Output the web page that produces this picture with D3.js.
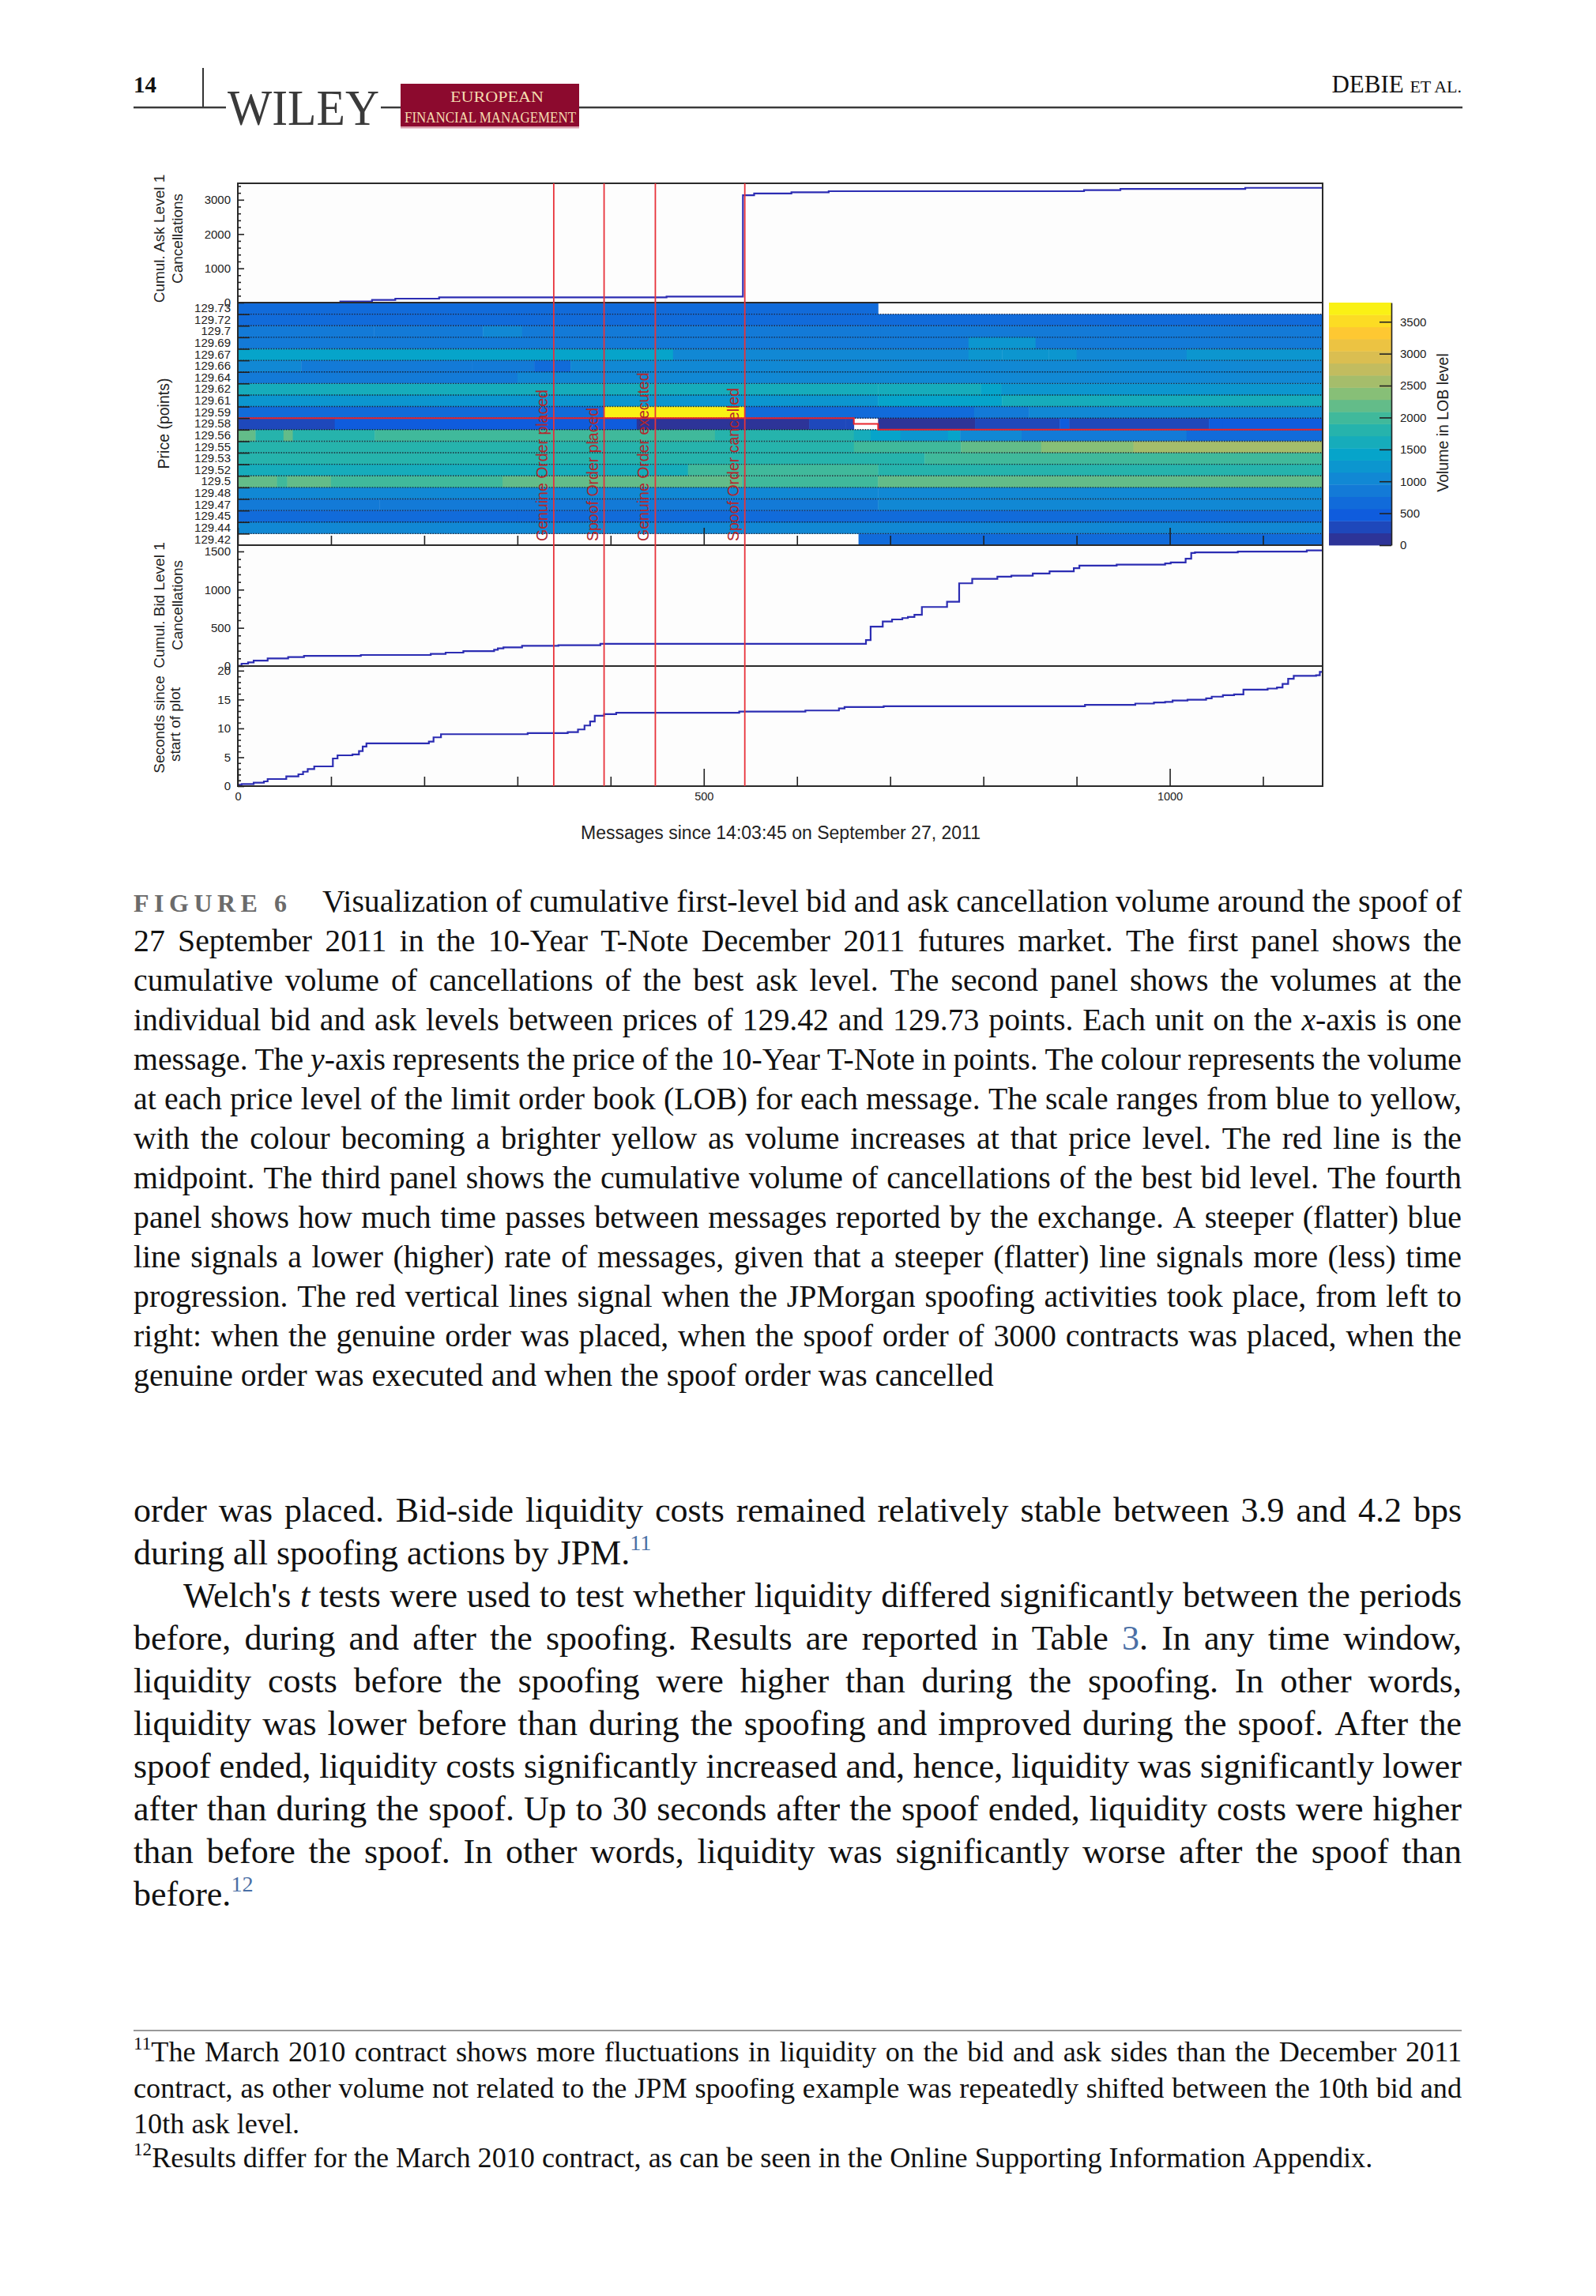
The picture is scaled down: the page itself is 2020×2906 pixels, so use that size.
<!DOCTYPE html>
<html><head><meta charset="utf-8">
<script src="https://cdn.jsdelivr.net/npm/d3@7/dist/d3.min.js"></script>
<style>html,body{margin:0;padding:0;background:#fff;}svg{display:block;}</style>
</head><body>
<svg id="page" width="2020" height="2906"></svg>
<script>
// ---------------- DATA ----------------
const messageMax = 1164;
const messageMajorTicks = [0, 500, 1000];
const messageMinorTicks = [100, 200, 300, 400, 600, 700, 800, 900, 1100];

const priceLabels = ['129.73','129.72','129.7','129.69','129.67','129.66','129.64','129.62','129.61','129.59',
  '129.58','129.56','129.55','129.53','129.52','129.5','129.48','129.47','129.45','129.44','129.42'];
const priceTopEdge = 129 + 47.5 / 64, priceBottomEdge = 129 + 26.5 / 64;

// volume in LOB level per price row: [start message, volume] (null = empty level)
const lobSegments = [
  [[0,620],[687,null]],
  [[0,700]],
  [[0,820],[146,880],[263,1000],[305,850],[690,800]],
  [[0,880],[784,1150],[856,900]],
  [[0,1350],[467,1100],[784,1300],[820,1150],[870,1300],[900,1100],[1018,1300]],
  [[0,1050],[68,900],[155,850],[251,780],[318,680],[357,950]],
  [[0,850],[300,950],[690,1050]],
  [[0,1550],[687,1700],[724,1550],[797,1350],[819,1250]],
  [[0,1250],[300,1300],[687,1350],[820,1600]],
  [[0,680],[393,3700],[544,650],[700,750],[790,900],[849,1050]],
  [[0,300],[104,450],[428,130],[613,350],[652,200],[661,null],[687,130],[791,330],[882,500],[892,330],[1042,380],[1057,480]],
  [[0,2100],[19,1850],[49,2100],[59,1850],[147,2050],[512,1850],[661,1600],[679,1400],[711,1300],[762,1380],[775,1100],[841,900],[1018,700]],
  [[0,1780],[661,1900],[776,2250],[862,2400],[961,2550]],
  [[0,1750],[300,1800],[737,2050]],
  [[0,1580],[483,1900],[687,1850]],
  [[0,2250],[42,1900],[53,2250],[100,1900],[284,2100],[541,2050],[687,2100]],
  [[0,1050],[687,1100]],
  [[0,900],[152,850],[300,900],[687,980]],
  [[0,700],[300,750]],
  [[0,1000]],
  [[0,null],[666,700]]
];

const midMessages = [0, 661, 687];
const midPrices = [129.5859, 129.5781, 129.5703];

const askCancel = [[0,0],[110,30],[144,76],[169,115],[216,154],[460,177],[542,3130],[554,3185],[594,3220],[634,3250],[908,3280],[947,3318],[1081,3348],[1164,3348]];
const askTicks = [0, 1000, 2000, 3000];

const bidCancel = [[0,3],[4,31],[11,48],[17,72],[32,100],[54,117],[71,134],[132,145],[207,159],[223,176],[242,196],[275,214],[279,231],[285,245],[305,265],[344,272],[389,290],[674,340],[679,515],[692,583],[702,610],[713,628],[719,642],[726,670],[734,773],[761,842],[774,1083],[788,1142],[815,1170],[830,1183],[853,1211],[871,1239],[897,1280],[903,1315],[943,1328],[995,1342],[1001,1356],[1017,1404],[1023,1480],[1027,1487],[1073,1497],[1147,1514],[1164,1514]];
const bidTicks = [0, 500, 1000, 1500];

const secondsElapsed = [[0,0.23],[4,0.37],[17,0.6],[28,0.82],[32,1.23],[52,1.69],[65,2.05],[70,2.5],[75,2.97],[82,3.42],[102,4.79],[107,5.34],[123,5.48],[130,6.07],[134,6.85],[138,7.4],[205,7.72],[210,8.45],[218,9.0],[311,9.18],[354,9.36],[365,9.82],[372,10.5],[378,11.2],[383,12.2],[393,12.47],[406,12.7],[538,12.92],[609,13.1],[645,13.47],[651,13.7],[693,13.84],[909,14.07],[963,14.3],[983,14.5],[995,14.6],[1003,14.84],[1019,14.98],[1039,15.2],[1045,15.5],[1057,15.75],[1069,15.9],[1079,16.7],[1105,16.9],[1115,17.1],[1121,17.7],[1127,18.6],[1133,19.1],[1157,19.2],[1161,19.8],[1164,19.8]];
const secTicks = [0, 5, 10, 15, 20];

const eventMessages = [339, 393, 448, 544];
const eventLabels = ['Genuine Order placed', 'Spoof Order placed', 'Genuine Order executed', 'Spoof Order cancelled'];

const colourMax = 3800, colourLevels = 20;
const colourTicks = [0, 500, 1000, 1500, 2000, 2500, 3000, 3500];
const birdStops = ['#352a87','#0f5cdd','#1481d6','#06a4ca','#2eb7a4','#87bf77','#d1bb59','#fec832','#f9fb0e'];

const captionLines = [
"Visualization of cumulative first-level bid and ask cancellation volume around the spoof of",
"27 September 2011 in the 10-Year T-Note December 2011 futures market. The first panel shows the",
"cumulative volume of cancellations of the best ask level. The second panel shows the volumes at the",
"individual bid and ask levels between prices of 129.42 and 129.73 points. Each unit on the _x_-axis is one",
"message. The _y_-axis represents the price of the 10-Year T-Note in points. The colour represents the volume",
"at each price level of the limit order book (LOB) for each message. The scale ranges from blue to yellow,",
"with the colour becoming a brighter yellow as volume increases at that price level. The red line is the",
"midpoint. The third panel shows the cumulative volume of cancellations of the best bid level. The fourth",
"panel shows how much time passes between messages reported by the exchange. A steeper (flatter) blue",
"line signals a lower (higher) rate of messages, given that a steeper (flatter) line signals more (less) time",
"progression. The red vertical lines signal when the JPMorgan spoofing activities took place, from left to",
"right: when the genuine order was placed, when the spoof order of 3000 contracts was placed, when the",
"genuine order was executed and when the spoof order was cancelled"
];
const bodyLines = [
"order was placed. Bid-side liquidity costs remained relatively stable between 3.9 and 4.2 bps",
"during all spoofing actions by JPM.^11^",
"Welch's _t_ tests were used to test whether liquidity differed significantly between the periods",
"before, during and after the spoofing. Results are reported in Table {3}. In any time window,",
"liquidity costs before the spoofing were higher than during the spoofing. In other words,",
"liquidity was lower before than during the spoofing and improved during the spoof. After the",
"spoof ended, liquidity costs significantly increased and, hence, liquidity was significantly lower",
"after than during the spoof. Up to 30 seconds after the spoof ended, liquidity costs were higher",
"than before the spoof. In other words, liquidity was significantly worse after the spoof than",
"before.^12^"
];
const footLines = [
"^11^The March 2010 contract shows more fluctuations in liquidity on the bid and ask sides than the December 2011",
"contract, as other volume not related to the JPM spoofing example was repeatedly shifted between the 10th bid and",
"10th ask level.",
"^12^Results differ for the March 2010 contract, as can be seen in the Online Supporting Information Appendix."
];

// ---------------- LAYOUT ----------------
const svg = d3.select('#page');
const sans = "'Liberation Sans', Arial, Helvetica, sans-serif";
const serif = "'Liberation Serif', 'Times New Roman', serif";
const ink = '#222';

const plotL = 301, plotR = 1674;
const p1 = {top: 232, bot: 383}, p2 = {top: 383, bot: 690}, p3 = {top: 690, bot: 843}, p4 = {top: 843, bot: 995};

const x = d3.scaleLinear().domain([0, messageMax]).range([plotL, plotR]);
const yAsk = d3.scaleLinear().domain([0, 3480]).range([p1.bot, p1.top]);
const rowBand = d3.scaleBand().domain(priceLabels).range([p2.top, p2.bot]);
const rowEdge = d3.scaleLinear().domain([0, priceLabels.length]).range([p2.top, p2.bot]);
const yPrice = d3.scaleLinear().domain([priceTopEdge, priceBottomEdge]).range([p2.top, p2.bot]);
const yBid = d3.scaleLinear().domain([0, 1582]).range([p3.bot, p3.top]);
const ySec = d3.scaleLinear().domain([0, 20.8]).range([p4.bot, p4.top]);
const cb = d3.scaleLinear().domain([0, colourMax]).range([p2.bot, p2.top]);
const birdInterp = d3.piecewise(d3.interpolateRgb, birdStops);
const levelSize = colourMax / colourLevels;
const colour = v => birdInterp((Math.min(colourLevels - 1, Math.floor(v / levelSize)) + 0.5) / colourLevels);
const intFmt = d3.format('d');

// panel backgrounds
[p1, p2, p3, p4].forEach(p => svg.append('rect').attr('x', plotL).attr('y', p.top)
  .attr('width', plotR - plotL).attr('height', p.bot - p.top).attr('fill', '#fdfdfd'));

// heatmap cells
const cells = [];
lobSegments.forEach((segs, r) => segs.forEach((s, i) => {
  const end = i + 1 < segs.length ? segs[i + 1][0] : messageMax;
  if (s[1] !== null) cells.push({label: priceLabels[r], x0: s[0], x1: end, v: s[1]});
}));
svg.append('g').selectAll('rect').data(cells).join('rect')
  .attr('x', d => x(d.x0)).attr('width', d => x(d.x1) - x(d.x0) + 0.4)
  .attr('y', d => rowBand(d.label)).attr('height', rowBand.bandwidth() + 0.3)
  .attr('fill', d => colour(d.v));

// dotted bin boundaries
svg.append('g').selectAll('line').data(d3.range(1, priceLabels.length)).join('line')
  .attr('x1', plotL).attr('x2', plotR).attr('y1', d => rowEdge(d)).attr('y2', d => rowEdge(d))
  .attr('stroke', '#1a1a2a').attr('stroke-width', 1.4).attr('stroke-dasharray', '1.6,1.6').attr('opacity', 0.85);

// midpoint line
const midData = midMessages.map((m, i) => [m, midPrices[i]]).concat([[messageMax, midPrices[midPrices.length - 1]]]);
svg.append('path').datum(midData)
  .attr('d', d3.line().x(d => x(d[0])).y(d => yPrice(d[1])).curve(d3.curveStepAfter))
  .attr('fill', 'none').attr('stroke', '#e8242c').attr('stroke-width', 2);

// step lines
const blue = '#2c2db3';
function stepLine(data, y) {
  svg.append('path').datum(data)
    .attr('d', d3.line().x(d => x(d[0])).y(d => y(d[1])).curve(d3.curveStepAfter))
    .attr('fill', 'none').attr('stroke', blue).attr('stroke-width', 2.2);
}
stepLine(askCancel, yAsk);
stepLine(bidCancel, yBid);
stepLine(secondsElapsed, ySec);

// frames
[p1, p2, p3, p4].forEach(p => svg.append('rect').attr('x', plotL).attr('y', p.top)
  .attr('width', plotR - plotL).attr('height', p.bot - p.top)
  .attr('fill', 'none').attr('stroke', '#2a2a2a').attr('stroke-width', 2));

// axes
function styleAxis(g, fs) {
  g.select('.domain').remove();
  g.selectAll('line').attr('stroke', ink).attr('stroke-width', 1.6);
  g.selectAll('text').attr('font-family', sans).attr('font-size', fs).attr('fill', ink);
}
function yAxisPair(scale, majors, minorStep, maxV, fs) {
  const minors = d3.range(0, maxV, minorStep).filter(v => !majors.some(m => Math.abs(m - v) < 1e-6));
  svg.append('g').attr('transform', `translate(${plotL},0)`)
    .call(d3.axisLeft(scale).tickValues(minors).tickSize(-4).tickFormat(''))
    .call(styleAxis, fs);
  svg.append('g').attr('transform', `translate(${plotL},0)`)
    .call(d3.axisLeft(scale).tickValues(majors).tickSize(-8).tickPadding(9).tickFormat(intFmt))
    .call(styleAxis, fs);
}
yAxisPair(yAsk, askTicks, 200, 3480, 15);
yAxisPair(yBid, bidTicks, 100, 1582, 15);
yAxisPair(ySec, secTicks, 1, 20.8, 15);

// heatmap y axis: labels at bin centres, ticks at bin edges
svg.append('g').attr('transform', `translate(${plotL},0)`)
  .call(d3.axisLeft(rowBand).tickSize(0).tickPadding(9)).call(styleAxis, 15);
svg.append('g').attr('transform', `translate(${plotL},0)`)
  .call(d3.axisLeft(rowEdge).tickValues(d3.range(1, priceLabels.length)).tickSize(-15).tickFormat(''))
  .call(styleAxis, 15);

// x axes (heatmap bottom and time panel bottom)
[p2.bot, p4.bot].forEach((yy, k) => {
  svg.append('g').attr('transform', `translate(0,${yy})`)
    .call(d3.axisBottom(x).tickValues(messageMinorTicks).tickSize(-12).tickFormat(''))
    .call(styleAxis, 14.5);
  svg.append('g').attr('transform', `translate(0,${yy})`)
    .call(d3.axisBottom(x).tickValues(messageMajorTicks).tickSize(-22).tickPadding(8)
      .tickFormat(k === 1 ? intFmt : ''))
    .call(styleAxis, 14.5);
});

// event lines and labels
svg.append('g').selectAll('line').data(eventMessages).join('line')
  .attr('x1', d => x(d)).attr('x2', d => x(d)).attr('y1', p1.top).attr('y2', p4.bot)
  .attr('stroke', '#e8323a').attr('stroke-width', 1.8);
svg.append('g').selectAll('text').data(eventMessages).join('text')
  .attr('transform', d => `translate(${x(d) - 8},${p2.bot - 5}) rotate(-90)`)
  .attr('font-family', sans).attr('font-size', 19.5).attr('fill', '#b3262c')
  .text((d, i) => eventLabels[i]);

// colour bar
const cbX = 1682, cbW = 79;
svg.append('g').selectAll('rect').data(d3.range(colourLevels)).join('rect')
  .attr('x', cbX).attr('width', cbW)
  .attr('y', k => cb((k + 1) * levelSize)).attr('height', k => cb(k * levelSize) - cb((k + 1) * levelSize) + 0.4)
  .attr('fill', k => birdInterp((k + 0.5) / colourLevels));
const cbAxis = svg.append('g').attr('transform', `translate(${cbX + cbW},0)`)
  .call(d3.axisRight(cb).tickValues(colourTicks).tickSize(-15).tickSizeOuter(0).tickPadding(11).tickFormat(intFmt));
cbAxis.selectAll('line').attr('stroke', ink).attr('stroke-width', 1.6);
cbAxis.select('.domain').attr('stroke', ink).attr('stroke-width', 1.6);
cbAxis.selectAll('text').attr('font-family', sans).attr('font-size', 15).attr('fill', ink);

// axis titles
function rotTitle(xb, yc, txt, fs) {
  svg.append('text').attr('transform', `translate(${xb},${yc}) rotate(-90)`)
    .attr('text-anchor', 'middle').attr('font-family', sans).attr('font-size', fs).attr('fill', ink).text(txt);
}
rotTitle(208, 302, 'Cumul. Ask Level 1', 19);
rotTitle(231, 302, 'Cancellations', 19);
rotTitle(214, 536, 'Price (points)', 19.5);
rotTitle(208, 766, 'Cumul. Bid Level 1', 19);
rotTitle(231, 766, 'Cancellations', 19);
rotTitle(208, 917, 'Seconds since', 19);
rotTitle(228, 917, 'start of plot', 19);
rotTitle(1833, 535, 'Volume in LOB level', 19.5);
svg.append('text').attr('x', 988).attr('y', 1062).attr('text-anchor', 'middle')
  .attr('font-family', sans).attr('font-size', 23).attr('fill', ink)
  .text('Messages since 14:03:45 on September 27, 2011');

// ---------------- PAGE HEADER ----------------
svg.append('text').attr('x', 169).attr('y', 117).attr('font-family', serif).attr('font-weight', 'bold')
  .attr('font-size', 29).attr('fill', '#111').text('14');
svg.append('line').attr('x1', 257).attr('x2', 257).attr('y1', 86).attr('y2', 137).attr('stroke', '#333').attr('stroke-width', 2);
[[169, 286], [482, 507], [733, 1851]].forEach(s => svg.append('line').attr('x1', s[0]).attr('x2', s[1])
  .attr('y1', 136).attr('y2', 136).attr('stroke', '#3a3a3a').attr('stroke-width', 2.5));
svg.append('text').attr('x', 288).attr('y', 158).attr('font-family', serif).attr('font-size', 64)
  .attr('fill', '#3a3a3a').attr('textLength', 192).attr('lengthAdjust', 'spacingAndGlyphs').text('WILEY');
svg.append('rect').attr('x', 507).attr('y', 106).attr('width', 226).attr('height', 56).attr('fill', '#8c0a2e');
svg.append('rect').attr('x', 507).attr('y', 160).attr('width', 226).attr('height', 2.5).attr('fill', '#d9a0ae');
svg.append('text').attr('x', 570).attr('y', 129).attr('font-family', serif).attr('font-size', 19)
  .attr('fill', '#f4dcb0').attr('textLength', 118).attr('lengthAdjust', 'spacingAndGlyphs').text('EUROPEAN');
svg.append('text').attr('x', 512).attr('y', 155).attr('font-family', serif).attr('font-size', 19)
  .attr('fill', '#f4dcb0').attr('textLength', 217).attr('lengthAdjust', 'spacingAndGlyphs').text('FINANCIAL MANAGEMENT');
const hdr = svg.append('text').attr('x', 1850).attr('y', 117).attr('text-anchor', 'end')
  .attr('font-family', serif).attr('fill', '#111');
hdr.append('tspan').attr('font-size', 31).text('DEBIE ');
hdr.append('tspan').attr('font-size', 22).text('ET AL.');

// ---------------- TEXT BLOCKS ----------------
function parseWord(w) {
  return w.split(/(_[^_]+_|\^[^\^]+\^|\{[^}]+\})/).filter(s => s.length).map(p =>
    p[0] === '_' ? {t: p.slice(1, -1), it: true} :
    p[0] === '^' ? {t: p.slice(1, -1), sup: true} :
    p[0] === '{' ? {t: p.slice(1, -1), link: true} : {t: p});
}
function buildWords(g, L, fs, opts) {
  return L.text.split(' ').filter(s => s.length).map(w => {
    const t = g.append('text').attr('y', L.y);
    let shifted = 0;
    parseWord(w).forEach(s => {
      const ts = t.append('tspan').text(s.t);
      if (s.it) ts.attr('font-style', 'italic');
      if (s.link) ts.attr('fill', opts.linkColour);
      if (s.sup) {
        const d = -0.42 * fs;
        ts.attr('font-size', fs * 0.64).attr('dy', d).attr('fill', opts.supColour);
        shifted += d;
      } else if (shifted) { ts.attr('dy', -shifted); shifted = 0; }
    });
    return {t, w: t.node().getComputedTextLength()};
  });
}
function setText(lines, fsTarget, opts) {
  // fit: shrink font if any justified line would need gaps narrower than a minimum
  const test = svg.append('g').attr('font-family', serif).attr('font-size', fsTarget);
  let ratio = 1;
  lines.forEach(L => {
    const nodes = buildWords(test, L, fsTarget, opts);
    const need = d3.sum(nodes, n => n.w) + (nodes.length - 1) * opts.minGap * fsTarget;
    if (L.justify) ratio = Math.min(ratio, (L.x1 - L.x0) / need);
  });
  test.remove();
  const fs = fsTarget * ratio;
  const g = svg.append('g').attr('font-family', serif).attr('font-size', fs).attr('fill', '#111');
  const probe = g.append('text').text('a a');
  const w1 = probe.node().getComputedTextLength();
  probe.text('aa');
  const spaceW = w1 - probe.node().getComputedTextLength();
  probe.remove();
  lines.forEach(L => {
    const nodes = buildWords(g, L, fs, opts);
    const total = d3.sum(nodes, n => n.w);
    const gap = L.justify && nodes.length > 1 ? (L.x1 - L.x0 - total) / (nodes.length - 1) : spaceW;
    let cx = L.x0;
    nodes.forEach(n => { n.t.attr('x', cx); cx += n.w + gap; });
  });
}
const textL = 169, textR = 1850;

// caption
svg.append('text').attr('x', textL).attr('y', 1154).attr('font-family', serif).attr('font-weight', 'bold')
  .attr('font-size', 32).attr('letter-spacing', 6.5).attr('fill', '#6b6b6b').text('FIGURE 6');
setText(captionLines.map((t, i) => ({text: t, y: 1154 + 50 * i, x0: i === 0 ? 408 : textL, x1: textR,
  justify: i < captionLines.length - 1})), 40, {linkColour: '#4a6fa5', supColour: '#4a6fa5', minGap: 0.22});

// body
const bodyParaEnds = [1, 9];
setText(bodyLines.map((t, i) => ({text: t, y: 1926 + 54 * i, x0: i === 2 ? 232 : textL, x1: textR,
  justify: !bodyParaEnds.includes(i)})), 44, {linkColour: '#4a6fa5', supColour: '#4a6fa5', minGap: 0.2});

// footnotes
svg.append('line').attr('x1', textL).attr('x2', textR).attr('y1', 2570).attr('y2', 2570)
  .attr('stroke', '#777').attr('stroke-width', 1.5);
const footEnds = [2, 3];
setText(footLines.map((t, i) => ({text: t, y: [2609, 2655, 2700, 2743][i], x0: textL, x1: textR,
  justify: !footEnds.includes(i)})), 36.2, {linkColour: '#111', supColour: '#111', minGap: 0.15});
</script>
</body></html>
